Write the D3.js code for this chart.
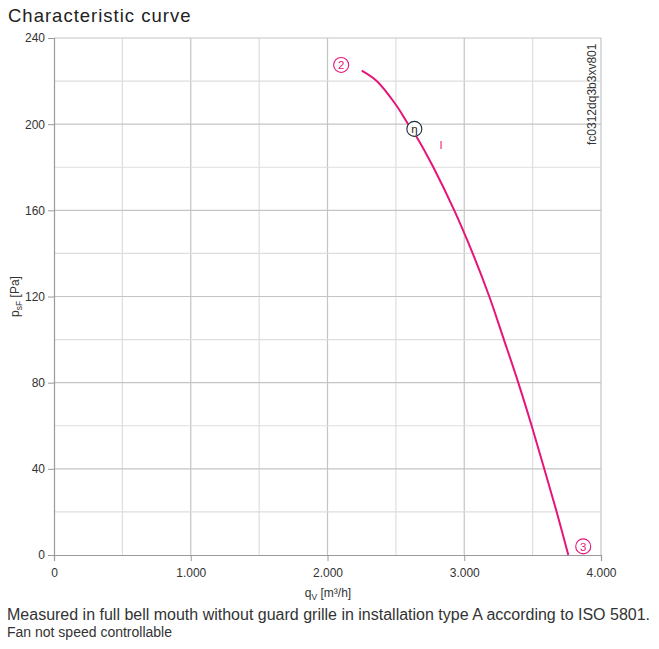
<!DOCTYPE html>
<html lang="en">
<head>
    <meta charset="UTF-8">
    <title>Characteristic curve</title>
    <script src="https://cdn.jsdelivr.net/npm/d3@7"></script>
    <style>
        body, html {
            margin: 0;
            padding: 0;
            background: #fff;
            overflow: hidden;
        }
        svg {
            display: block;
            font-family: "Liberation Sans", Arial, sans-serif;
        }
    </style>
</head>
<body>
    <svg id="mainsvg"></svg>
    <script>
        // curve data
        const flow = [2250, 2360, 2500, 2590, 2665, 2774, 2927, 3062, 3183, 3290, 3395, 3493, 3585, 3676, 3761];
        const pressure = [224.8, 220, 209, 200, 192.7, 180, 160, 140, 120, 100, 80, 60, 40, 20, 0];
        const xTicks = [0, 1000, 2000, 3000, 4000];
        const yTicks = [0, 40, 80, 120, 160, 200, 240];
        const markers = [
            {label: "2", q: 2100, p: 227.5, color: "#e5157a"},
            {label: "η", q: 2635, p: 197.8, color: "#222"},
            {label: "3", q: 3870, p: 4, color: "#e5157a"}
        ];

        const width = 659, height = 649;
        const margin = {left: 54, right: 58, top: 38, bottom: 94};
        const pink = "#e5157a";

        const svg = d3.select("#mainsvg")
            .attr("width", width)
            .attr("height", height);

        const x = d3.scaleLinear().domain([0, 4000]).range([margin.left, width - margin.right]);
        const y = d3.scaleLinear().domain([0, 240]).range([height - margin.bottom, margin.top]);

        // title
        svg.append("text")
            .attr("x", 8).attr("y", 22)
            .attr("font-size", 18.5)
            .attr("letter-spacing", 1)
            .attr("fill", "#222")
            .text("Characteristic curve");

        // grid, minor lines lighter than major
        const grid = svg.append("g");
        grid.selectAll(".vx")
            .data(d3.range(500, 4001, 500))
            .join("line")
            .attr("x1", d => x(d)).attr("x2", d => x(d))
            .attr("y1", y(0)).attr("y2", y(240))
            .attr("stroke", d => d % 1000 === 0 ? "#c4c4c4" : "#dedede")
            .attr("stroke-width", 1.2);
        grid.selectAll(".hy")
            .data(d3.range(20, 241, 20))
            .join("line")
            .attr("x1", x(0)).attr("x2", x(4000))
            .attr("y1", d => y(d)).attr("y2", d => y(d))
            .attr("stroke", d => d % 40 === 0 ? "#c4c4c4" : "#dedede")
            .attr("stroke-width", 1.2);

        // axes
        const xAxis = svg.append("g")
            .attr("transform", `translate(0,${y(0)})`)
            .call(d3.axisBottom(x).tickValues(xTicks).tickSize(6).tickPadding(7)
                .tickFormat(d => d3.format(",")(d).replace(",", ".")));
        const yAxis = svg.append("g")
            .attr("transform", `translate(${x(0)},0)`)
            .call(d3.axisLeft(y).tickValues(yTicks).tickSize(6).tickPadding(3));
        [xAxis, yAxis].forEach(a => {
            a.select(".domain").attr("stroke", "#9a9a9a").attr("stroke-width", 1.2);
            a.selectAll(".tick line").attr("stroke", "#9a9a9a");
            a.selectAll(".tick text")
                .attr("fill", "#333")
                .attr("font-size", 12)
                .attr("font-family", "Liberation Sans, Arial, sans-serif");
        });

        // axis titles
        const xl = svg.append("text")
            .attr("x", 328).attr("y", 597)
            .attr("text-anchor", "middle")
            .attr("font-size", 12)
            .attr("fill", "#333");
        xl.append("tspan").text("q");
        xl.append("tspan").attr("font-size", 8.5).attr("dy", 3).text("V");
        xl.append("tspan").attr("dy", -3).text(" [m³/h]");

        const yl = svg.append("text")
            .attr("transform", `translate(19,${y(120)}) rotate(-90)`)
            .attr("text-anchor", "middle")
            .attr("font-size", 12)
            .attr("fill", "#333");
        yl.append("tspan").text("p");
        yl.append("tspan").attr("font-size", 8.5).attr("dy", 3).text("sF");
        yl.append("tspan").attr("dy", -3).text(" [Pa]");

        // curve
        const pts = flow.map((q, i) => [q, pressure[i]]);
        svg.append("path")
            .datum(pts)
            .attr("fill", "none")
            .attr("stroke", pink)
            .attr("stroke-width", 2)
            .attr("d", d3.line().x(d => x(d[0])).y(d => y(d[1])).curve(d3.curveCatmullRom.alpha(0.5)));

        // operating point markers
        const mk = svg.append("g").selectAll("g")
            .data(markers)
            .join("g")
            .attr("transform", d => `translate(${x(d.q)},${y(d.p)})`);
        mk.append("circle")
            .attr("r", 7.5)
            .attr("fill", "#fff")
            .attr("stroke", d => d.label === "η" ? "#1f2b3a" : d.color)
            .attr("stroke-width", 1.1);
        mk.append("text")
            .attr("text-anchor", "middle")
            .attr("dy", "0.36em")
            .attr("font-size", 11.5)
            .attr("fill", d => d.color)
            .text(d => d.label);

        // curve label
        svg.append("text")
            .attr("x", x(2830)).attr("y", y(188.5))
            .attr("text-anchor", "middle")
            .attr("font-size", 11)
            .attr("fill", pink)
            .text("I");

        // drawing id
        svg.append("text")
            .attr("transform", `translate(596,145) rotate(-90)`)
            .attr("font-size", 12)
            .attr("fill", "#333")
            .text("fc0312dq3b3xv801");

        // footnotes
        svg.append("text")
            .attr("x", 7).attr("y", 620)
            .attr("font-size", 16)
            .attr("fill", "#333")
            .text("Measured in full bell mouth without guard grille in installation type A according to ISO 5801.");
        svg.append("text")
            .attr("x", 7).attr("y", 637)
            .attr("font-size", 14)
            .attr("fill", "#333")
            .text("Fan not speed controllable");
    </script>
</body>
</html>
